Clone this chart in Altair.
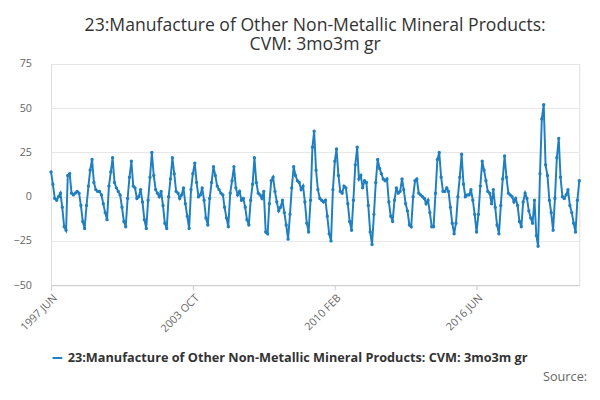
import altair as alt
import pandas as pd

start = "1997-06-01"
values = [
    14, 7, -1, -2, 0, 2, -6, -17, -19, 12, 13, 2,
    1, 2, 3, 2, -5, -14, -18, -5, 6, 15, 21, 8,
    4, 3, 3, 1, -4, -9, -13, 6, 14, 22, 8, 5,
    3, 1, -6, -14, -17, -1, 11, 20, 6, 5, -1, 0,
    4, -3, -13, -18, -2, 11, 25, 12, 4, 2, 0, 3,
    -5, -15, -18, 0, 10, 22, 13, 3, 2, -1, 1, 5,
    -4, -11, -18, 4, 13, 19, 8, 0, 1, 5, -2, -12,
    -16, -1, 8, 17, 12, 6, 4, 2, 1, -6, -12, -17,
    2, 9, 17, 5, 1, 3, -2, -1, -6, -13, -16, -2,
    7, 22, 8, 2, 1, -1, 3, -20, -21, -4, 9, 11,
    3, -3, -8, -6, -2, -9, -16, -24, -10, 5, 17, 12,
    9, 8, 4, 6, -3, -15, -20, -2, 28, 37, 15, 4,
    -1, -2, -3, -2, -11, -21, -25, 4, 20, 27, 12, 3,
    2, 6, 5, -4, -14, -19, -2, 18, 28, 10, 12, 5,
    9, 8, -5, -20, -27, -10, 8, 21, 16, 13, 10, 9,
    10, -3, -11, -14, -2, 5, 2, 3, 10, 4, -4, -8,
    -16, -17, 0, 9, 10, 2, 1, 0, -1, -4, -2, -9,
    -17, -17, 2, 21, 25, 11, 3, 3, 5, 3, -6, -15,
    -21, -15, 0, 11, 24, 7, 0, 1, 1, 4, -2, -10,
    -20, -10, 6, 20, 15, 9, 3, 2, -4, 4, -6, -16,
    -21, -5, 10, 23, 11, 2, 1, 0, -3, -1, -5, -14,
    -17, -3, 2, -1, -8, -12, -15, -2, -22, -28, 13, 44,
    52, 18, 12, -2, -9, -19, -1, 22, 33, 11, 0, -1,
    1, 4, -5, -9, -15, -20, -2, 9,
]
dates = pd.date_range(start, periods=len(values), freq="MS")
df = pd.DataFrame({"date": dates, "value": values})

series = "23:Manufacture of Other Non-Metallic Mineral Products: CVM: 3mo3m gr"
df["series"] = series

tick_dates = ["1997-06-01", "2003-10-01", "2010-02-01", "2016-06-01", "2022-04-01"]

base = alt.Chart(df).encode(
    x=alt.X("date:T", title=None,
            scale=alt.Scale(domain=[dates[0].isoformat(), dates[-1].isoformat()]),
            axis=alt.Axis(values=[pd.Timestamp(t).isoformat() for t in tick_dates],
                          labelExpr="upper(timeFormat(datum.value, '%Y %b'))",
                          labelAngle=-45, grid=False, tickSize=5, labelColor="#666",
                          labelFontSize=11, domainColor="#ccc", tickColor="#ccc",
                          labelAlign="right")),
    y=alt.Y("value:Q", title=None,
            scale=alt.Scale(domain=[-50, 75]),
            axis=alt.Axis(values=[-50, -25, 0, 25, 50, 75], domain=False, ticks=False,
                          gridColor="#e6e6e6", labelColor="#666", labelFontSize=11,
                          labelPadding=20)),
    color=alt.Color("series:N", scale=alt.Scale(range=["#1f7fc0"]),
                    legend=alt.Legend(orient="bottom", title=None, labelFontSize=13,
                                      labelColor="#333", labelFontWeight="bold",
                                      symbolType="stroke", symbolStrokeWidth=2,
                                      labelLimit=600)),
)

source = alt.Chart(pd.DataFrame({"t": ["Source:"]})).mark_text(
    align="right", fontSize=13, color="#666"
).encode(x=alt.value(548), y=alt.value(320), text="t:N")

chart = (base.mark_line(strokeWidth=2) + base.mark_circle(size=12, opacity=1) + source).properties(
    width=540, height=226,
    title=alt.TitleParams(["23:Manufacture of Other Non-Metallic Mineral Products:", "CVM: 3mo3m gr"],
                          fontSize=18, fontWeight="normal", color="#333", font="Open Sans"),
).configure_view(stroke=None).configure(font="Open Sans")

chart.save("out.html", embed_options={"renderer": "svg", "actions": False})
